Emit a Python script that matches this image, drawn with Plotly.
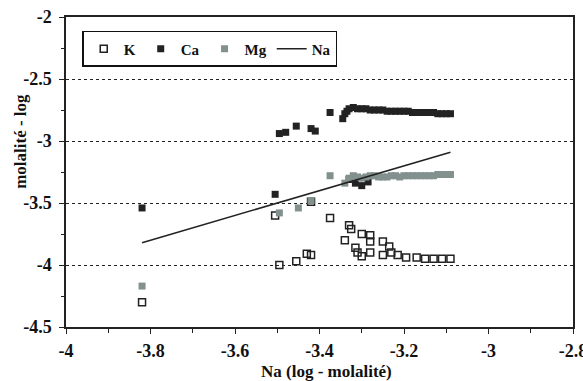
import plotly.graph_objects as go

# K (open squares)
k_na = [-3.82, -3.505, -3.495, -3.455, -3.43, -3.42, -3.42, -3.375, -3.33, -3.325, -3.34, -3.30, -3.28, -3.28,
        -3.315, -3.31, -3.30, -3.28, -3.25, -3.235, -3.25, -3.23, -3.215, -3.195, -3.17, -3.15, -3.13, -3.11, -3.09]
k_val = [-4.30, -3.60, -4.00, -3.97, -3.91, -3.92, -3.49, -3.62, -3.68, -3.71, -3.80, -3.75, -3.76, -3.81,
         -3.86, -3.90, -3.93, -3.90, -3.81, -3.85, -3.92, -3.90, -3.92, -3.94, -3.94, -3.95, -3.95, -3.95, -3.95]

# Ca (black squares)
ca_na = [-3.82, -3.505, -3.495, -3.48, -3.455, -3.42, -3.41, -3.375, -3.345, -3.34, -3.335, -3.33, -3.32, -3.31,
         -3.30, -3.29, -3.28, -3.27, -3.26, -3.25, -3.24, -3.23, -3.22, -3.21, -3.20, -3.19, -3.18, -3.17,
         -3.16, -3.15, -3.14, -3.13, -3.12, -3.11, -3.10, -3.09, -3.33, -3.315, -3.30, -3.285]
ca_val = [-3.54, -3.43, -2.94, -2.93, -2.88, -2.90, -2.92, -2.77, -2.82, -2.78, -2.76, -2.74, -2.73, -2.74,
          -2.74, -2.74, -2.75, -2.75, -2.75, -2.75, -2.76, -2.76, -2.76, -2.76, -2.76, -2.76, -2.77, -2.77,
          -2.77, -2.77, -2.77, -2.77, -2.78, -2.78, -2.78, -2.78, -3.31, -3.34, -3.36, -3.33]

# Mg (grey squares)
mg_na = [-3.82, -3.495, -3.45, -3.42, -3.375, -3.34, -3.33, -3.32, -3.31, -3.30, -3.29, -3.28, -3.27, -3.26,
         -3.25, -3.24, -3.23, -3.22, -3.21, -3.20, -3.19, -3.18, -3.17, -3.16, -3.15, -3.14, -3.13, -3.12,
         -3.11, -3.10, -3.09]
mg_val = [-4.17, -3.58, -3.54, -3.48, -3.28, -3.34, -3.30, -3.28, -3.29, -3.30, -3.29, -3.28, -3.28, -3.29,
          -3.29, -3.29, -3.28, -3.28, -3.29, -3.28, -3.28, -3.28, -3.28, -3.28, -3.28, -3.28, -3.28, -3.27,
          -3.27, -3.27, -3.27]

# Na vs Na (line)
na_line = [-3.82, -3.09]

x_ticks = [-4, -3.8, -3.6, -3.4, -3.2, -3, -2.8]
x_tick_labels = ["<b>-4</b>", "<b>-3.8</b>", "<b>-3.6</b>", "<b>-3.4</b>", "<b>-3.2</b>", "<b>-3</b>", "<b>-2.8</b>"]
y_ticks = [-4.5, -4, -3.5, -3, -2.5, -2]
y_tick_labels = ["<b>-4.5</b>", "<b>-4</b>", "<b>-3.5</b>", "<b>-3</b>", "<b>-2.5</b>", "<b>-2</b>"]
x_title = "<b>Na (log - molalité)</b>"
y_title = "<b>molalité - log</b>"

FONT = "'Liberation Serif', 'DejaVu Serif', serif"
INK = "#111111"

fig = go.Figure()
fig.add_trace(go.Scatter(x=k_na, y=k_val, mode="markers", name="<b>K</b>",
                         marker=dict(symbol="square-open", size=7, color="#222222", line=dict(width=1.5))))
fig.add_trace(go.Scatter(x=ca_na, y=ca_val, mode="markers", name="<b>Ca</b>",
                         marker=dict(symbol="square", size=7, color="#222222")))
fig.add_trace(go.Scatter(x=mg_na, y=mg_val, mode="markers", name="<b>Mg</b>",
                         marker=dict(symbol="square", size=7, color="#82918e")))
fig.add_trace(go.Scatter(x=na_line, y=na_line, mode="lines", name="<b>Na</b>",
                         line=dict(color="#222222", width=1.6)))

fig.update_layout(
    width=583, height=381,
    margin=dict(l=66, r=10, t=17, b=54, autoexpand=False),
    paper_bgcolor="white", plot_bgcolor="white",
    font=dict(family=FONT, size=16, color=INK),
    showlegend=True,
    legend=dict(orientation="h", x=0.032, y=0.955, xanchor="left", yanchor="top",
                bgcolor="white", bordercolor=INK, borderwidth=1.5,
                font=dict(family=FONT, size=15, color=INK),
                itemwidth=30, tracegroupgap=0),
    xaxis=dict(range=[-4, -2.8], tickvals=x_ticks, ticktext=x_tick_labels, automargin=False,
               showline=True, linecolor="#222222", linewidth=1.5, mirror=True,
               ticks="outside", ticklen=5, tickcolor="#222222", tickwidth=1.2, ticklabelstandoff=2,
               ticklabeloverflow="allow",
               minor=dict(dtick=0.1, ticks="outside", ticklen=4, tickcolor="#222222"),
               showgrid=False, zeroline=False,
               tickfont=dict(family=FONT, size=18, color=INK)),
    yaxis=dict(range=[-4.5, -2], tickvals=y_ticks, ticktext=y_tick_labels, automargin=False,
               showline=True, linecolor="#222222", linewidth=1.5, mirror=True,
               ticks="outside", ticklen=5, tickcolor="#222222", tickwidth=1.2, ticklabelstandoff=4,
               ticklabeloverflow="allow",
               minor=dict(dtick=0.25, ticks="outside", ticklen=3, tickcolor="#222222"),
               showgrid=True, gridcolor="#222222", griddash="dot", gridwidth=1.3,
               zeroline=False,
               tickfont=dict(family=FONT, size=18, color=INK)),
    annotations=[
        dict(text=x_title, xref="paper", yref="paper", x=0.513, y=-0.142,
             xanchor="center", yanchor="middle", showarrow=False,
             font=dict(family=FONT, size=17, color=INK)),
        dict(text=y_title, xref="paper", yref="paper", x=-0.091, y=0.6, textangle=-90,
             xanchor="center", yanchor="middle", showarrow=False,
             font=dict(family=FONT, size=17, color=INK)),
    ],
)

fig.write_html("out.html", config={"displayModeBar": False},
               post_script="document.body.style.margin='0';document.body.style.overflow='hidden';")
